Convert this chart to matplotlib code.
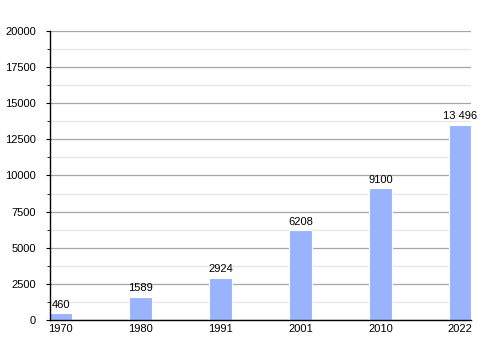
import matplotlib.pyplot as plt
import numpy as np
from matplotlib.ticker import MultipleLocator

plt.rcParams["font.family"] = ["Liberation Sans", "DejaVu Sans"]

years = ["1970", "1980", "1991", "2001", "2010", "2022"]
population = [460, 1589, 2924, 6208, 9100, 13496]
value_labels = ["460", "1589", "2924", "6208", "9100", "13 496"]

fig = plt.figure(figsize=(5, 3.5), dpi=100)
ax = fig.add_axes([0.1, 0.0857, 0.842, 0.826])

x = np.arange(len(years))
ax.bar(x, population, width=0.28, color="#99b3ff", edgecolor="white", linewidth=0.8, zorder=3)

for xi, val, lab in zip(x, population, value_labels):
    ax.text(xi, val + 250, lab, ha="center", va="bottom", fontsize=8, color="black")

ax.set_xlim(-0.135, 5.135)
ax.set_ylim(0, 20000)
ax.set_xticks(x)
ax.set_xticklabels(years)
ax.yaxis.set_major_locator(MultipleLocator(2500))
ax.yaxis.set_minor_locator(MultipleLocator(1250))
ax.grid(axis="y", which="major", color="#a6a6a6", linewidth=0.9, zorder=1)
ax.grid(axis="y", which="minor", color="#e6e6e6", linewidth=0.9, zorder=1)

ax.tick_params(axis="x", length=0, labelsize=8, pad=3)
ax.tick_params(axis="y", which="major", length=3, labelsize=8, pad=7)
ax.tick_params(axis="y", which="minor", length=2)
for s in ["top", "right"]:
    ax.spines[s].set_visible(False)
ax.spines["left"].set_linewidth(1.0)
ax.spines["bottom"].set_linewidth(1.0)
ax.spines["left"].set_zorder(4)
ax.spines["bottom"].set_zorder(4)

fig.savefig("out.png", dpi=100)
